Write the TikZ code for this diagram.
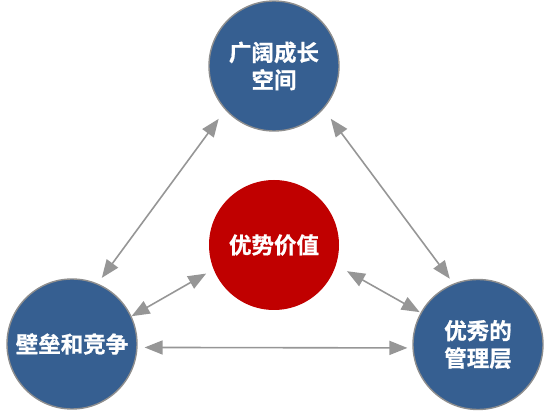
\documentclass[tikz,border=0pt]{standalone}
\usepackage{fontspec}
\newfontfamily\cjk{Noto Sans CJK SC Bold}[FakeBold=0.8]
\usetikzlibrary{arrows.meta}
\definecolor{bluefill}{HTML}{365F91}
\definecolor{redfill}{HTML}{C00000}
\definecolor{ringgray}{HTML}{8E8E8E}
\definecolor{arrgray}{HTML}{969696}
\tikzset{
  bubble/.style={circle, minimum size=130pt, inner sep=0pt, fill=bluefill, draw=ringgray, line width=1.4pt,
    text=white, align=center, font=\cjk\fontsize{22.5}{27.5}\selectfont},
  redbubble/.style={bubble, fill=redfill, draw=none},
  arr/.style={draw=arrgray, line width=1.6pt, {Triangle[length=18pt,width=14pt]}-{Triangle[length=18pt,width=14pt]}}
}
\begin{document}
\begin{tikzpicture}[x=1pt,y=-1pt]
\useasboundingbox (0,0) rectangle (544,411);
\node[bubble] (top) at (274,66) {广阔成长\\空间};
\node[bubble] (left) at (72,344) {壁垒和竞争};
\node[bubble] (right) at (478,344.5) {优秀的\\管理层};
\node[redbubble] (mid) at (274,245) {优势价值};
\draw[arr, shorten <=11pt, shorten >=7pt] (top.222) -- (left.67);
\draw[arr, shorten <=12pt, shorten >=6pt] (top.319) -- (right.112);
\draw[arr, shorten <=8pt, shorten >=0pt] (mid.202) -- (left.25);
\draw[arr, shorten <=12pt, shorten >=1pt] (mid.342) -- (right.151);
\draw[arr, shorten <=7pt, shorten >=5pt] (left.357) -- (right.183);
\end{tikzpicture}
\end{document}
